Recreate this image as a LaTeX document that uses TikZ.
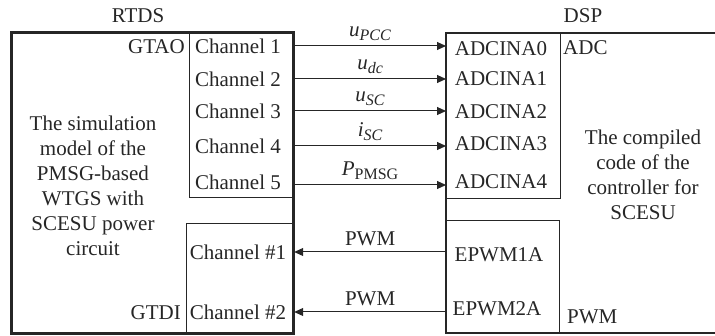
\documentclass[tikz,border=0pt]{standalone}
\usepackage{fontspec}
\setmainfont{Liberation Serif}
\usetikzlibrary{arrows.meta}
\newcommand{\sub}[1]{\raisebox{-0.35ex}{\fontsize{16}{16}\selectfont #1}}
\begin{document}
\begin{tikzpicture}[x=1pt,y=-1pt,
  every node/.style={font=\fontsize{21}{25}\selectfont, text=black!85, inner sep=0pt},
  bigbox/.style={draw=black!85, line width=2.4pt},
  inbox/.style={draw=black!85, line width=0.9pt},
  sig/.style={draw=black!85, line width=1pt, -{Triangle[length=9pt,width=8pt]}},
  lbl/.style={anchor=base}]
\useasboundingbox (0,0) rectangle (715,336);
% RTDS box
\node[bigbox, minimum width=281pt, minimum height=300pt] (rtds) at (152.5,183) {};
\node[inbox, anchor=north east, minimum width=104pt, minimum height=165pt] (gtao) at (rtds.north east) {};
\node[inbox, anchor=south east, minimum width=107pt, minimum height=110pt] (gtdi) at (rtds.south east) {};
\draw[bigbox] (rtds.north west) rectangle (rtds.south east);
% DSP box (open to the right)
\coordinate (dspnw) at (446,33);
\coordinate (dspsw) at (446,333);
\node[inbox, anchor=north west, minimum width=114pt, minimum height=165pt] (adcbox) at (dspnw) {};
\node[inbox, anchor=south west, minimum width=113pt, minimum height=112pt] (pwmbox) at (dspsw) {};
\draw[bigbox] (716,33) -- (dspnw) -- (dspsw) -- (716,333);
% titles
\node (trtds) at (138,16) {RTDS};
\node (tdsp) at (583,16) {DSP};
\node[anchor=east] (tgtao) at (185,47) {GTAO};
\node[anchor=east] (tgtdi) at (181,313) {GTDI};
\node[anchor=west] (tadc) at (563,48) {ADC};
\node[anchor=west] (tpwm) at (567,317) {PWM};
% left and right text
\node[align=center] (lefttxt) at (93,186) {The simulation\\model of the\\PMSG-based\\WTGS with\\SCESU power\\circuit};
\node[align=center] (righttxt) at (643,175) {The compiled\\code of the\\controller for\\SCESU};
% channels
\node (ch1) at (238,46) {Channel 1};
\node (ch2) at (238,79) {Channel 2};
\node (ch3) at (238,111) {Channel 3};
\node (ch4) at (238,146) {Channel 4};
\node (ch5) at (238,182) {Channel 5};
\node (chd1) at (238,252) {Channel \#1};
\node (chd2) at (238,312) {Channel \#2};
\node (ad0) at (501,49) {ADCINA0};
\node (ad1) at (501,79) {ADCINA1};
\node (ad2) at (501,112) {ADCINA2};
\node (ad3) at (501,144) {ADCINA3};
\node (ad4) at (501,182) {ADCINA4};
\node (ep1) at (499,255) {EPWM1A};
\node (ep2) at (497,309) {EPWM2A};
% arrows
\coordinate (y1) at (0,46);
\coordinate (y2) at (0,79);
\coordinate (y3) at (0,111);
\coordinate (y4) at (0,146);
\coordinate (y5) at (0,185);
\coordinate (y6) at (0,252);
\coordinate (y7) at (0,312);
\draw[sig] (y1 -| rtds.east) -- node[above=5pt] (l1) {\textit{u}\sub{\textit{PCC}}} (y1 -| dspnw);
\draw[sig] (y2 -| rtds.east) -- node[above=5pt] (l2) {\textit{u}\sub{\textit{dc}}} (y2 -| dspnw);
\draw[sig] (y3 -| rtds.east) -- node[above=5pt] (l3) {\textit{u}\sub{\textit{SC}}} (y3 -| dspnw);
\draw[sig] (y4 -| rtds.east) -- node[above=5pt] (l4) {\textit{i}\sub{\textit{SC}}} (y4 -| dspnw);
\draw[sig] (y5 -| rtds.east) -- node[above=5pt] (l5) {\textit{P}\sub{PMSG}} (y5 -| dspnw);
\draw[sig] (y6 -| dspnw) -- node[above=6pt] (l6) {PWM} (y6 -| rtds.east);
\draw[sig] (y7 -| dspnw) -- node[above=6pt] (l7) {PWM} (y7 -| rtds.east);
\end{tikzpicture}
\end{document}
